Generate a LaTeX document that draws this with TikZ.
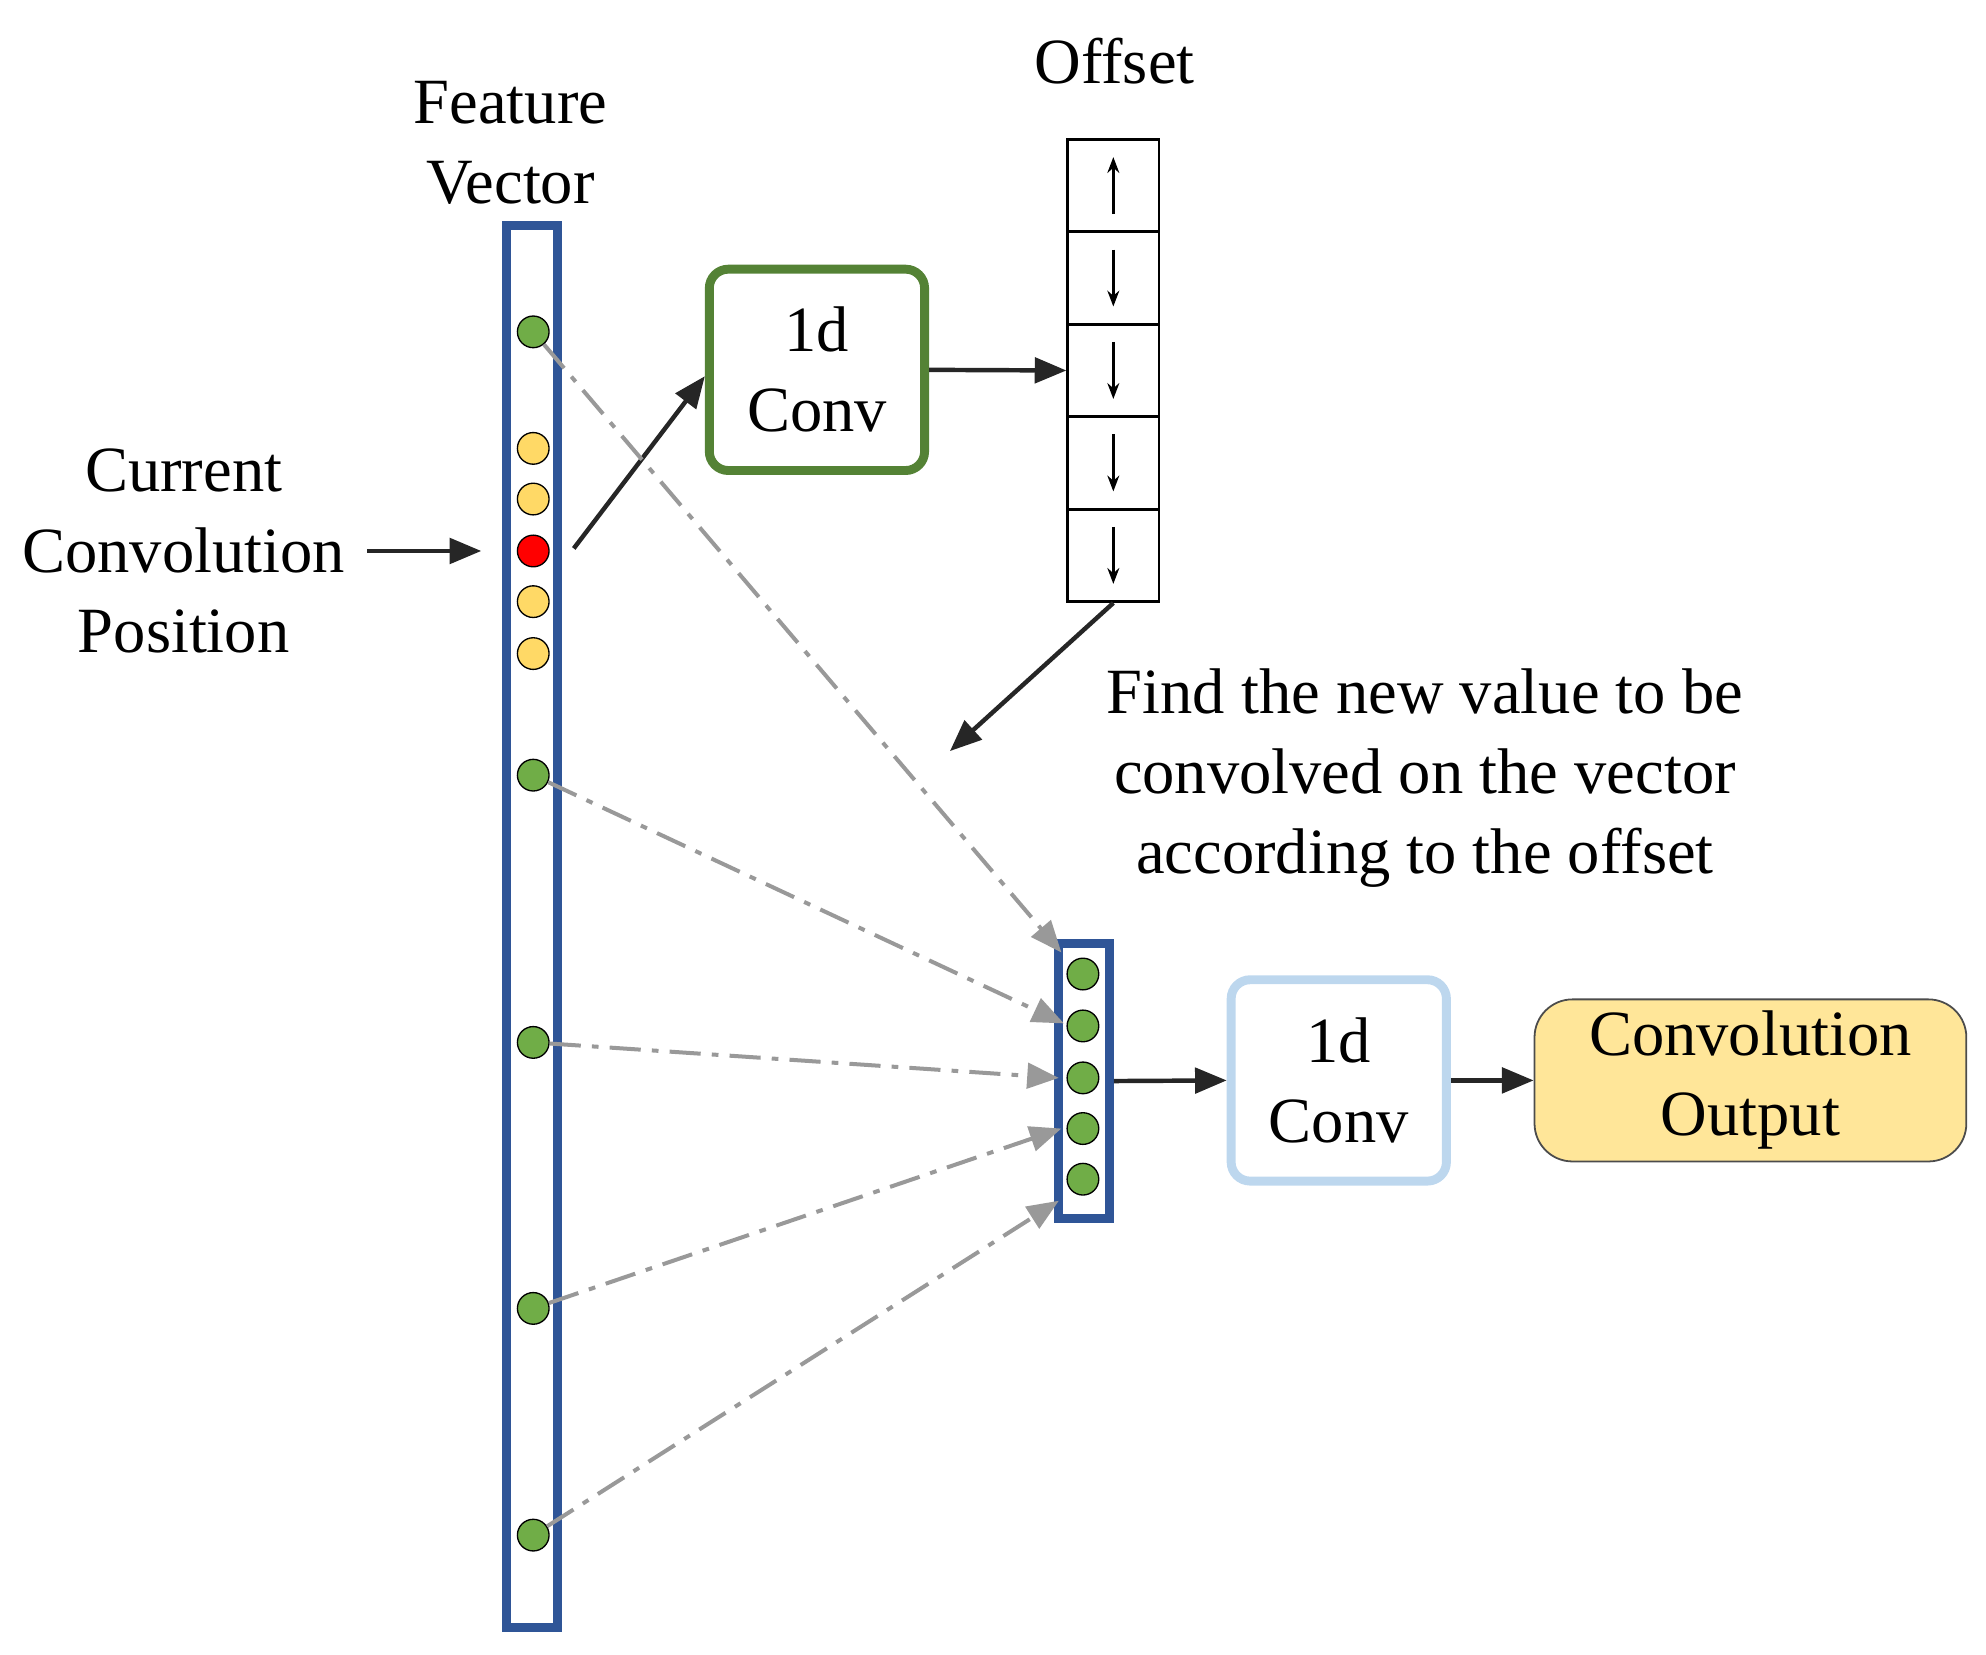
\documentclass[tikz,border=0pt]{standalone}
\usepackage{fontspec}
\setmainfont{Liberation Serif}
\usetikzlibrary{arrows.meta}
\definecolor{fblue}{HTML}{2F5597}
\definecolor{cgreen}{HTML}{548235}
\definecolor{dgreen}{HTML}{70AD47}
\definecolor{lblue}{HTML}{BDD7EE}
\definecolor{oyel}{HTML}{FFE699}
\definecolor{dyel}{HTML}{FFD966}
\begin{document}
\begin{tikzpicture}[x=0.02cm,y=-0.02cm,
  lbl/.style={font=\fontsize{29}{36}\selectfont,align=center},
  dot/.style={circle,draw=black,line width=0.6pt,minimum size=0.5cm,inner sep=0},
  arr/.style={-{Triangle[length=0.5cm,width=0.4cm]},line width=2pt,black!85},
  garr/.style={-{Triangle[length=0.5cm,width=0.4cm]},line width=1.8pt,gray!80,dash pattern=on 14pt off 5pt on 3pt off 5pt},
  cell/.style={draw,line width=1.2pt,minimum width=1.44cm,minimum height=1.46cm,inner sep=0}]
\useasboundingbox (0,0) rectangle (1568,1306);
% feature vector
\node[draw=fblue,line width=4pt,minimum width=0.8cm,minimum height=22.14cm,inner sep=0] (fv) at (420,731.5) {};
\node[lbl] (fvt) at (403,113) {Feature\\Vector};
\foreach \y/\n in {262/g1,612/g2,823/g3,1033/g4,1212/g5}{\node[dot,fill=dgreen] (\n) at (421,\y) {};}
\foreach \y/\n in {354/y1,394/y2,475/y3,516/y4}{\node[dot,fill=dyel] (\n) at (421,\y) {};}
\node[dot,fill=red] (r) at (421,435) {};
\node[lbl] (cur) at (145,435) {Current\\Convolution\\Position};
\coordinate (c1) at (290,435); \coordinate (c2) at (380,435);
\draw[arr] (c1) -- (c2);
% 1d conv green
\node[draw=cgreen,line width=4pt,rounded corners=0.3cm,minimum width=3.4cm,minimum height=3.18cm,lbl] (cv1) at (645,292) {1d\\Conv};
\coordinate (rs) at (453,433);
\draw[arr] (rs) -- (cv1.west|-0,297);
% offset
\node[lbl] (off) at (880,48) {Offset};
\foreach \i in {1,...,5}{
  \node[cell] (o\i) at (879,110+73*\i-36.5) {};
}
\foreach \i in {1}{\draw[-{Stealth[length=0.25cm]},line width=1.5pt] ([yshift=-0.45cm]o\i.center) -- ([yshift=0.45cm]o\i.center);}
\foreach \i in {2,3,4,5}{\draw[-{Stealth[length=0.25cm]},line width=1.5pt] ([yshift=0.45cm]o\i.center) -- ([yshift=-0.45cm]o\i.center);}
\draw[arr] (cv1.east) -- (o3.west);
\coordinate (fa) at (750,593);
\draw[arr] (o5.south) -- (fa);
\node[lbl] (find) at (1125,614) {Find the new value to be\\convolved on the vector\\according to the offset};
% small vector
\node[draw=fblue,line width=4pt,minimum width=0.8cm,minimum height=4.34cm,inner sep=0] (sv) at (856,853.5) {};
\foreach \y/\n in {769/s1,810/s2,851/s3,891/s4,931/s5}{\node[dot,fill=dgreen] (\n) at (855,\y) {};}
\coordinate (t1) at (838,752); \coordinate (t2) at (840,808); \coordinate (t3) at (836,851);
\coordinate (t4) at (838,891); \coordinate (t5) at (836,948);
\draw[garr] (g1) -- (t1);
\draw[garr] (g2) -- (t2);
\draw[garr] (g3) -- (t3);
\draw[garr] (g4) -- (t4);
\draw[garr] (g5) -- (t5);
% second conv
\node[draw=lblue,line width=4pt,rounded corners=0.3cm,minimum width=3.4cm,minimum height=3.18cm,lbl] (cv2) at (1057,853) {1d\\Conv};
\draw[arr] (sv.east) -- (cv2.west);
\node[draw=black!70,line width=0.8pt,fill=oyel,rounded corners=0.6cm,minimum width=6.82cm,minimum height=2.56cm,lbl] (out) at (1382,853) {Convolution\\Output};
\draw[arr] (cv2.east) -- (out.west);
\end{tikzpicture}
\end{document}
